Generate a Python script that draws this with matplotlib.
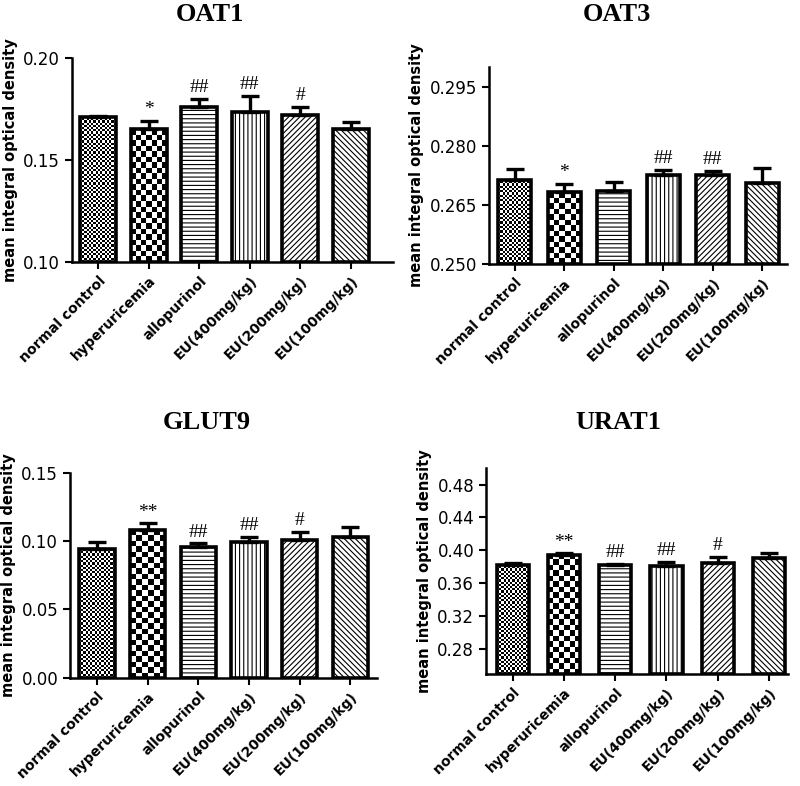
import numpy as np
import matplotlib
matplotlib.use('Agg')
from matplotlib import pyplot as plt

# data
groups = ['normal control', 'hyperuricemia', 'allopurinol',
          'EU(400mg/kg)', 'EU(200mg/kg)', 'EU(100mg/kg)']

oat1_mean = [0.1713, 0.1653, 0.1759, 0.1734, 0.1719, 0.1653]
oat1_err = [0.0004, 0.0037, 0.0041, 0.0079, 0.0041, 0.0035]
oat1_sig = ['', '*', '##', '##', '#', '']

oat3_mean = [0.2713, 0.2682, 0.2686, 0.2727, 0.2727, 0.2706]
oat3_err = [0.0029, 0.0021, 0.0022, 0.0012, 0.0009, 0.0038]
oat3_sig = ['', '*', '', '##', '##', '']

glut9_mean = [0.0941, 0.1083, 0.0956, 0.0993, 0.1007, 0.1032]
glut9_err = [0.0056, 0.0049, 0.0029, 0.0041, 0.0064, 0.0075]
glut9_sig = ['', '**', '##', '##', '#', '']

urat1_mean = [0.3828, 0.3945, 0.3824, 0.3812, 0.3843, 0.3908]
urat1_err = [0.0015, 0.0019, 0.0016, 0.0048, 0.0081, 0.0056]
urat1_sig = ['', '**', '##', '##', '#', '']

plt.rcParams['font.family'] = 'DejaVu Sans'
plt.rcParams['hatch.linewidth'] = 0.8

fig = plt.figure(figsize=(8, 7.86), dpi=100)

hatches = [None, None, '----', '||||', '//////', '\\\\\\\\\\\\']
checker_px = [2.2, 5.5]


def add_checker(ax, bar, cell):
    x0, y0 = bar.get_x(), bar.get_y()
    x1, y1 = x0 + bar.get_width(), y0 + bar.get_height()
    p0 = ax.transData.transform((x0, y0))
    p1 = ax.transData.transform((x1, y1))
    nx = max(1, int(round((p1[0] - p0[0]) / cell)))
    ny = max(1, int(round((p1[1] - p0[1]) / cell)))
    arr = np.add.outer(np.arange(ny), np.arange(nx)) % 2
    im = ax.imshow(arr, extent=[x0, x1, y0, y1], cmap='gray', vmin=0, vmax=1,
                   interpolation='nearest', aspect='auto', zorder=1)
    im.set_clip_path(bar)


def panel(rect, title, title_xy, mean, err, sig, ylim, yticks, fmt, xlim, width):
    ax = fig.add_axes(rect)
    x = np.arange(len(groups))
    ax.set_xlim(*xlim)
    ax.set_ylim(*ylim)
    base = ylim[0]
    heights = [m - base for m in mean]
    bars = ax.bar(x, heights, width=width, bottom=base, color='white',
                  edgecolor='black', linewidth=2.6, zorder=2)
    for i, b in enumerate(bars):
        if hatches[i]:
            b.set_hatch(hatches[i])
        else:
            b.set_facecolor('none')
            add_checker(ax, b, checker_px[i])
    ax.errorbar(x, mean, yerr=[np.zeros(len(err)), err], fmt='none',
                ecolor='black', elinewidth=2.4, capsize=6.5, capthick=2.4, zorder=3)
    for i in range(len(groups)):
        if sig[i]:
            ax.annotate(sig[i], (x[i], mean[i] + err[i]), xytext=(0, 2),
                        textcoords='offset points', ha='center', va='bottom',
                        fontsize=14, family='Liberation Serif', zorder=4)
    ax.set_yticks(yticks)
    ax.set_yticklabels([fmt.format(t) for t in yticks], fontsize=12)
    ax.set_xticks(x)
    ax.set_xticklabels(groups, rotation=45, ha='right', rotation_mode='anchor',
                       fontsize=10, fontweight='bold')
    ax.spines['top'].set_visible(False)
    ax.spines['right'].set_visible(False)
    ax.spines['left'].set_linewidth(1.8)
    ax.spines['bottom'].set_linewidth(1.8)
    ax.tick_params(axis='both', direction='out', width=1.5, length=5)
    ax.set_ylabel('mean integral optical density', fontsize=10.5, fontweight='bold')
    fig.text(title_xy[0], title_xy[1], title, ha='center', va='center',
             fontsize=19, fontweight='bold', family='Liberation Serif')
    return ax


panel([0.090, 0.667, 0.401, 0.259], 'OAT1', (0.2625, 0.982), oat1_mean, oat1_err, oat1_sig,
      (0.10, 0.20), [0.10, 0.15, 0.20], '{:.2f}', (-0.52, 5.83), 0.71)
panel([0.611, 0.664, 0.373, 0.251], 'OAT3', (0.771, 0.982), oat3_mean, oat3_err, oat3_sig,
      (0.250, 0.300), [0.250, 0.265, 0.280, 0.295], '{:.3f}', (-0.52, 5.5), 0.67)
panel([0.0875, 0.138, 0.384, 0.260], 'GLUT9', (0.259, 0.463), glut9_mean, glut9_err, glut9_sig,
      (0.0, 0.15), [0.00, 0.05, 0.10, 0.15], '{:.2f}', (-0.53, 5.53), 0.70)
panel([0.6075, 0.1425, 0.3775, 0.262], 'URAT1', (0.7725, 0.463), urat1_mean, urat1_err, urat1_sig,
      (0.25, 0.50), [0.28, 0.32, 0.36, 0.40, 0.44, 0.48], '{:.2f}', (-0.52, 5.37), 0.63)

fig.savefig('out.png', dpi=100)
